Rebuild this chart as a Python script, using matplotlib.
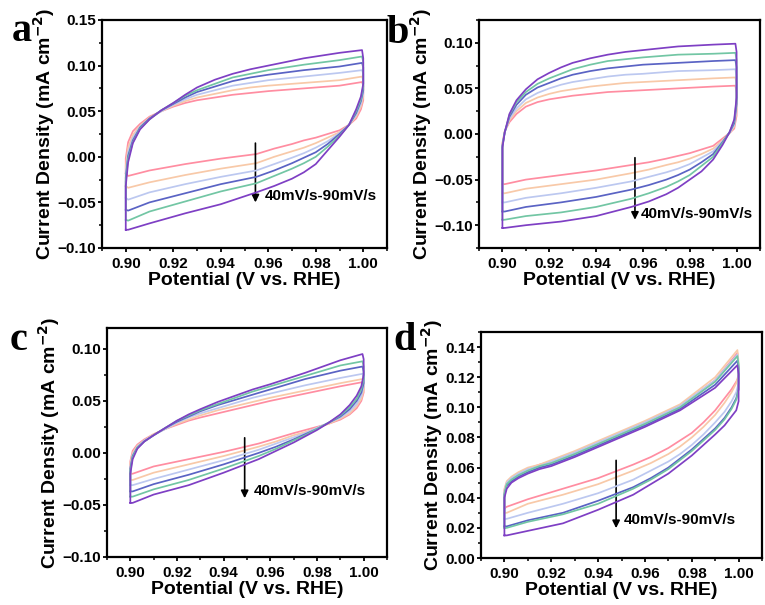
import matplotlib
matplotlib.use("Agg")
import matplotlib.pyplot as plt
from matplotlib.ticker import MultipleLocator, FuncFormatter

plt.rcParams['font.family'] = ['Liberation Sans', 'DejaVu Sans']
plt.rcParams['font.weight'] = 'bold'
plt.rcParams['mathtext.default'] = 'bf'

# scan rates (mV/s) and colours
SCAN_RATES = [40, 50, 60, 70, 80, 90]
COLORS = ['#FF8DA1', '#F8C9A8', '#BCC8F0', '#5A63C4', '#72C6A4', '#7E3FC4']

# potential grid for the anodic (upper) and cathodic (lower) branches
X_UP = [0.900, 0.900, 0.901, 0.903, 0.906, 0.910, 0.915, 0.920, 0.925, 0.930,
        0.9375, 0.945, 0.9525, 0.960, 0.975, 0.990, 0.9995]
X_LO = [1.000, 1.000, 0.999, 0.997, 0.994, 0.990, 0.985, 0.980, 0.975, 0.970,
        0.9625, 0.955, 0.940, 0.925, 0.910, 0.901]

# ---- panel a ----
A_UP = [
    [-0.018, -0.002, 0.016, 0.028, 0.036, 0.044, 0.050, 0.055, 0.059, 0.062, 0.065, 0.068, 0.070, 0.072, 0.075, 0.078, 0.082],
    [-0.032, -0.010, 0.010, 0.024, 0.034, 0.043, 0.050, 0.056, 0.061, 0.065, 0.069, 0.073, 0.076, 0.078, 0.081, 0.084, 0.088],
    [-0.045, -0.018, 0.005, 0.021, 0.033, 0.042, 0.050, 0.057, 0.063, 0.068, 0.073, 0.078, 0.081, 0.084, 0.088, 0.092, 0.095],
    [-0.058, -0.023, 0.001, 0.018, 0.032, 0.042, 0.051, 0.058, 0.065, 0.071, 0.077, 0.083, 0.087, 0.090, 0.095, 0.099, 0.103],
    [-0.069, -0.027, -0.002, 0.016, 0.031, 0.041, 0.051, 0.059, 0.067, 0.073, 0.080, 0.087, 0.091, 0.095, 0.101, 0.106, 0.110],
    [-0.080, -0.032, -0.006, 0.015, 0.030, 0.041, 0.051, 0.059, 0.068, 0.076, 0.0845, 0.091, 0.096, 0.100, 0.108, 0.114, 0.117],
]
A_LO = [
    [0.078, 0.062, 0.052, 0.042, 0.035, 0.029, 0.025, 0.021, 0.018, 0.014, 0.009, 0.003, -0.002, -0.008, -0.015, -0.021],
    [0.084, 0.066, 0.055, 0.044, 0.035, 0.027, 0.021, 0.015, 0.010, 0.006, 0.000, -0.007, -0.013, -0.020, -0.028, -0.034],
    [0.091, 0.070, 0.058, 0.046, 0.035, 0.026, 0.017, 0.010, 0.004, -0.001, -0.008, -0.015, -0.022, -0.030, -0.039, -0.047],
    [0.098, 0.073, 0.061, 0.048, 0.035, 0.025, 0.014, 0.005, -0.001, -0.007, -0.015, -0.022, -0.030, -0.040, -0.050, -0.059],
    [0.104, 0.077, 0.063, 0.050, 0.035, 0.023, 0.011, 0.000, -0.007, -0.013, -0.021, -0.029, -0.038, -0.049, -0.060, -0.070],
    [0.108, 0.080, 0.066, 0.052, 0.035, 0.022, 0.007, -0.008, -0.017, -0.024, -0.032, -0.039, -0.052, -0.062, -0.073, -0.080],
]

# ---- panel b ----
B_UP = [
    [-0.055, -0.010, 0.003, 0.013, 0.022, 0.030, 0.035, 0.038, 0.040, 0.042, 0.044, 0.046, 0.047, 0.048, 0.050, 0.052, 0.053],
    [-0.065, -0.011, 0.003, 0.015, 0.025, 0.034, 0.040, 0.044, 0.047, 0.049, 0.052, 0.054, 0.056, 0.057, 0.059, 0.061, 0.062],
    [-0.075, -0.012, 0.002, 0.017, 0.028, 0.038, 0.045, 0.050, 0.054, 0.057, 0.060, 0.063, 0.065, 0.066, 0.069, 0.070, 0.071],
    [-0.085, -0.013, 0.002, 0.019, 0.032, 0.043, 0.051, 0.056, 0.061, 0.065, 0.069, 0.072, 0.074, 0.076, 0.078, 0.080, 0.081],
    [-0.094, -0.014, 0.002, 0.021, 0.035, 0.046, 0.055, 0.061, 0.066, 0.071, 0.076, 0.080, 0.082, 0.084, 0.087, 0.088, 0.089],
    [-0.103, -0.015, 0.002, 0.022, 0.037, 0.049, 0.060, 0.067, 0.073, 0.078, 0.083, 0.087, 0.090, 0.092, 0.096, 0.098, 0.099],
]
B_LO = [
    [0.045, 0.020, 0.006, 0.001, -0.005, -0.013, -0.017, -0.021, -0.024, -0.027, -0.031, -0.034, -0.040, -0.045, -0.050, -0.055],
    [0.055, 0.025, 0.008, 0.001, -0.007, -0.016, -0.022, -0.027, -0.031, -0.034, -0.039, -0.043, -0.050, -0.055, -0.060, -0.065],
    [0.063, 0.030, 0.010, 0.001, -0.008, -0.019, -0.026, -0.033, -0.038, -0.042, -0.047, -0.052, -0.059, -0.065, -0.070, -0.075],
    [0.073, 0.033, 0.012, 0.002, -0.009, -0.022, -0.031, -0.039, -0.045, -0.050, -0.056, -0.061, -0.069, -0.075, -0.080, -0.085],
    [0.081, 0.037, 0.014, 0.002, -0.010, -0.025, -0.035, -0.045, -0.052, -0.058, -0.065, -0.071, -0.080, -0.086, -0.090, -0.094],
    [0.090, 0.040, 0.016, 0.002, -0.012, -0.028, -0.041, -0.050, -0.059, -0.066, -0.074, -0.080, -0.090, -0.096, -0.100, -0.103],
]

# ---- panel c ----
C_UP = [
    [-0.020, -0.008, 0.002, 0.008, 0.013, 0.018, 0.023, 0.027, 0.031, 0.034, 0.038, 0.042, 0.046, 0.050, 0.057, 0.064, 0.068],
    [-0.026, -0.010, 0.000, 0.007, 0.012, 0.018, 0.023, 0.028, 0.032, 0.036, 0.041, 0.045, 0.049, 0.053, 0.060, 0.067, 0.071],
    [-0.031, -0.013, -0.002, 0.006, 0.012, 0.017, 0.023, 0.029, 0.034, 0.038, 0.043, 0.048, 0.053, 0.057, 0.065, 0.072, 0.076],
    [-0.037, -0.015, -0.003, 0.005, 0.011, 0.017, 0.024, 0.030, 0.035, 0.040, 0.046, 0.051, 0.056, 0.061, 0.071, 0.079, 0.083],
    [-0.042, -0.017, -0.004, 0.005, 0.011, 0.017, 0.024, 0.031, 0.036, 0.041, 0.047, 0.053, 0.059, 0.064, 0.074, 0.084, 0.088],
    [-0.048, -0.020, -0.006, 0.004, 0.011, 0.017, 0.024, 0.031, 0.037, 0.042, 0.049, 0.055, 0.061, 0.066, 0.077, 0.089, 0.095],
]
C_LO = [
    [0.064, 0.058, 0.050, 0.043, 0.037, 0.032, 0.028, 0.025, 0.022, 0.019, 0.014, 0.009, 0.001, -0.006, -0.013, -0.020],
    [0.068, 0.060, 0.052, 0.045, 0.038, 0.033, 0.028, 0.024, 0.020, 0.017, 0.011, 0.006, -0.003, -0.011, -0.019, -0.026],
    [0.072, 0.064, 0.055, 0.047, 0.040, 0.034, 0.029, 0.024, 0.019, 0.015, 0.009, 0.003, -0.007, -0.016, -0.025, -0.031],
    [0.078, 0.067, 0.058, 0.050, 0.042, 0.035, 0.029, 0.023, 0.018, 0.013, 0.006, 0.000, -0.011, -0.021, -0.030, -0.037],
    [0.083, 0.071, 0.061, 0.052, 0.044, 0.036, 0.029, 0.023, 0.017, 0.012, 0.004, -0.003, -0.015, -0.026, -0.035, -0.042],
    [0.090, 0.075, 0.064, 0.055, 0.046, 0.037, 0.029, 0.022, 0.016, 0.010, 0.002, -0.006, -0.019, -0.031, -0.040, -0.048],
]

# ---- panel d ----
D_UP = [
    [0.033, 0.045, 0.050, 0.053, 0.056, 0.059, 0.062, 0.064, 0.067, 0.070, 0.075, 0.080, 0.085, 0.090, 0.101, 0.118, 0.136],
    [0.030, 0.046, 0.051, 0.054, 0.057, 0.060, 0.062, 0.065, 0.068, 0.071, 0.076, 0.081, 0.086, 0.091, 0.102, 0.120, 0.138],
    [0.026, 0.044, 0.050, 0.053, 0.056, 0.059, 0.061, 0.064, 0.067, 0.070, 0.075, 0.080, 0.085, 0.090, 0.101, 0.118, 0.135],
    [0.021, 0.042, 0.048, 0.051, 0.054, 0.057, 0.060, 0.062, 0.065, 0.068, 0.073, 0.078, 0.083, 0.088, 0.099, 0.115, 0.131],
    [0.020, 0.043, 0.049, 0.052, 0.055, 0.058, 0.061, 0.063, 0.066, 0.069, 0.074, 0.079, 0.084, 0.089, 0.100, 0.117, 0.134],
    [0.015, 0.040, 0.046, 0.050, 0.053, 0.056, 0.059, 0.061, 0.064, 0.067, 0.072, 0.077, 0.082, 0.087, 0.098, 0.113, 0.128],
]
D_LO = [
    [0.124, 0.120, 0.117, 0.112, 0.106, 0.098, 0.090, 0.083, 0.078, 0.073, 0.067, 0.062, 0.053, 0.046, 0.039, 0.034],
    [0.130, 0.122, 0.116, 0.110, 0.103, 0.095, 0.087, 0.080, 0.074, 0.069, 0.063, 0.058, 0.049, 0.042, 0.036, 0.030],
    [0.128, 0.116, 0.110, 0.104, 0.097, 0.090, 0.082, 0.075, 0.069, 0.064, 0.058, 0.052, 0.043, 0.036, 0.030, 0.026],
    [0.126, 0.112, 0.106, 0.100, 0.093, 0.086, 0.079, 0.072, 0.066, 0.060, 0.053, 0.047, 0.038, 0.030, 0.025, 0.021],
    [0.128, 0.112, 0.105, 0.099, 0.092, 0.085, 0.078, 0.071, 0.065, 0.059, 0.052, 0.046, 0.036, 0.029, 0.024, 0.020],
    [0.122, 0.104, 0.098, 0.094, 0.088, 0.082, 0.075, 0.068, 0.062, 0.056, 0.049, 0.042, 0.032, 0.023, 0.018, 0.015],
]

PANELS = ['a', 'b', 'c', 'd']
Y_LIMS = [(-0.10, 0.15), (-0.125, 0.125), (-0.10, 0.12), (0.0, 0.15)]
Y_MAJOR = [0.05, 0.05, 0.05, 0.02]
# arrow: x, y_start, y_end ; text x, y
ARROWS = [(0.9546, 0.015, -0.050, 0.9585, -0.043),
          (0.9566, -0.026, -0.094, 0.9590, -0.088),
          (0.9490, 0.0145, -0.0435, 0.9530, -0.037),
          (0.9477, 0.0648, 0.0198, 0.9510, 0.0253)]
ANNOT_TEXT = '40mV/s-90mV/s'

DATA = [(A_UP, A_LO), (B_UP, B_LO), (C_UP, C_LO), (D_UP, D_LO)]

W, H = 765, 605
fig = plt.figure(figsize=(W / 100, H / 100), dpi=100)
boxes = [(102, 20, 387, 248), (479, 20, 760, 248), (107, 328, 387, 557), (481, 332, 762, 558)]
letter_pos = [(12, 41), (387, 43), (10, 350), (393, 350)]


def fmt(v, pos):
    s = '%.2f' % v
    return s.replace('-', '\u2212')


for i, (l, t, r, b) in enumerate(boxes):
    ax = fig.add_axes([l / W, (H - b) / H, (r - l) / W, (b - t) / H])
    ups, los = DATA[i]
    for k in range(len(SCAN_RATES)):
        xs = X_UP + X_LO + [X_UP[0]]
        ys = ups[k] + los[k] + [ups[k][0]]
        ax.plot(xs, ys, color=COLORS[k], lw=1.25, solid_joinstyle='round',
                zorder=2 + k)
    ax.set_xlim(0.89, 1.01)
    ax.set_ylim(*Y_LIMS[i])
    ax.xaxis.set_major_locator(MultipleLocator(0.02))
    ax.xaxis.set_minor_locator(MultipleLocator(0.01))
    ax.yaxis.set_major_locator(MultipleLocator(Y_MAJOR[i]))
    ax.yaxis.set_minor_locator(MultipleLocator(Y_MAJOR[i] / 2))
    ax.yaxis.set_major_formatter(FuncFormatter(fmt))
    ax.xaxis.set_major_formatter(FuncFormatter(fmt))
    ax.tick_params(which='major', direction='out', length=3, width=1.3,
                   labelsize=11)
    ax.tick_params(axis='y', which='major', pad=1.5)
    ax.tick_params(axis='x', which='major', pad=3.5)
    ax.tick_params(which='minor', direction='out', length=2, width=1.1)
    ax.tick_params(top=False, right=False, which='both')
    for sp in ax.spines.values():
        sp.set_linewidth(1.6)
    for lab in ax.get_xticklabels() + ax.get_yticklabels():
        lab.set_fontweight('bold')
    ax.set_xlabel('Potential (V vs. RHE)', fontsize=14, fontweight='bold', labelpad=1)
    ax.set_ylabel('Current Density (mA cm$^{-2}$)', fontsize=14,
                  fontweight='bold', labelpad=0)
    ax_, y0, y1, tx, ty = ARROWS[i]
    ax.annotate('', xy=(ax_, y1), xytext=(ax_, y0),
                arrowprops=dict(arrowstyle='-|>', color='black', lw=1.2,
                                mutation_scale=11, shrinkA=0, shrinkB=0))
    ax.text(tx, ty, ANNOT_TEXT, fontsize=11, fontweight='bold', va='center', ha='left')
    lx, ly = letter_pos[i]
    fig.text(lx / W, (H - ly) / H, PANELS[i], fontsize=29, fontweight='bold',
             family='Liberation Serif', ha='left', va='baseline')

fig.savefig('out.png', dpi=100)
